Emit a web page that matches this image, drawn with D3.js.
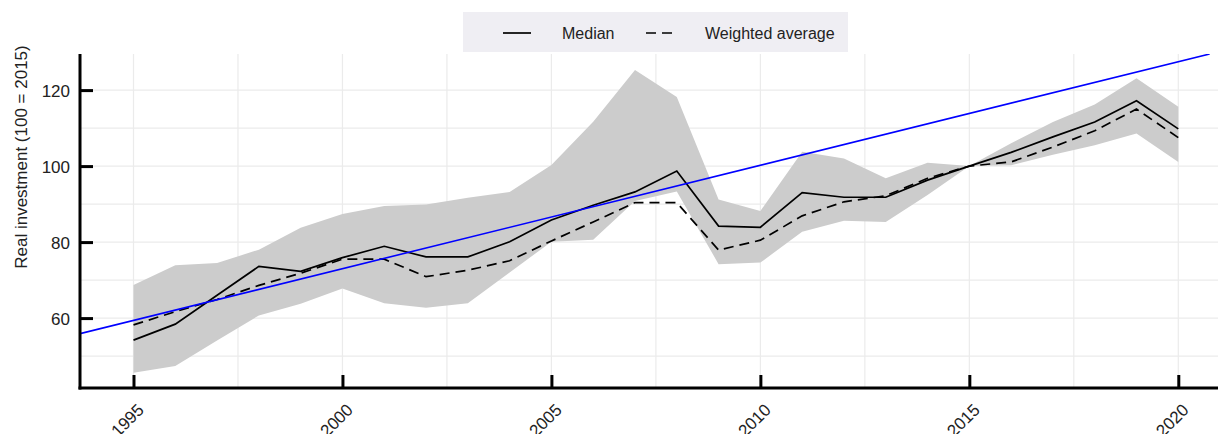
<!DOCTYPE html>
<html>
<head>
<meta charset="utf-8">
<script src="https://cdn.jsdelivr.net/npm/d3@7"></script>
<style>
  body { margin: 0; background: #fff; }
  svg { display: block; font-family: "Liberation Sans", Arial, sans-serif; }
</style>
</head>
<body>
<div id="chart"></div>
<script>
// data
var years = [1995, 1996, 1997, 1998, 1999, 2000, 2001, 2002, 2003, 2004, 2005, 2006, 2007,
             2008, 2009, 2010, 2011, 2012, 2013, 2014, 2015, 2016, 2017, 2018, 2019, 2020];
var median = [54.2, 58.4, 66.0, 73.6, 72.3, 75.9, 78.9, 76.1, 76.1, 80.1, 85.8, 89.7, 93.2,
              98.7, 84.2, 83.9, 93.0, 91.8, 91.8, 96.3, 100, 103.6, 107.7, 111.6, 117.2, 109.8];
var weighted = [58.2, 61.7, 64.9, 68.6, 71.8, 75.5, 75.5, 70.9, 72.6, 75.1, 80.3, 85.3, 90.4,
                90.4, 77.9, 80.5, 86.9, 90.6, 92.2, 96.8, 100, 101.1, 105.0, 109.3, 115.0, 107.5];
var bandLow = [45.6, 47.4, 54.1, 60.7, 63.8, 67.8, 63.9, 62.7, 63.9, 72.0, 80.1, 80.6, 90.8,
               93.3, 74.2, 74.6, 82.7, 85.6, 85.3, 92.4, 100, 100.2, 103.0, 105.5, 108.6, 101.1];
var bandHigh = [68.7, 73.9, 74.5, 78.0, 83.8, 87.4, 89.5, 89.9, 91.7, 93.2, 100.3, 111.7, 125.3,
                118.2, 91.2, 88.2, 103.8, 102.0, 96.8, 100.9, 100, 106.0, 111.6, 116.2, 123.1, 115.6];
var trendYears = [1993.72, 2020.75];
var trendValues = [55.9, 129.5];
var yTicks = [60, 80, 100, 120];
var yMinor = [50, 70, 90, 110];
var xTicks = [1995, 2000, 2005, 2010, 2015, 2020];
var xMinor = [1997.5, 2002.5, 2007.5, 2012.5, 2017.5];
var legendLabels = ["Median", "Weighted average"];
var yTitle = "Real investment (100 = 2015)";

var W = 1218, H = 434;
var plot = {left: 80, right: 1218, top: 54, bottom: 388};

var svg = d3.select("#chart").append("svg")
  .attr("width", W)
  .attr("height", H);

var x = d3.scaleLinear().domain([1993.72, 2020.95]).range([plot.left, plot.right]);
var y = d3.scaleLinear().domain([41.6, 129.5]).range([plot.bottom, plot.top]);

var rows = years.map(function(yr, i) {
  return {year: yr, median: median[i], weighted: weighted[i], lo: bandLow[i], hi: bandHigh[i]};
});

svg.append("defs").append("clipPath").attr("id", "clip")
  .append("rect")
  .attr("x", plot.left).attr("y", plot.top)
  .attr("width", plot.right - plot.left).attr("height", plot.bottom - plot.top);

// grid
var grid = svg.append("g").attr("class", "grid");
grid.selectAll(".hgrid")
  .data(yTicks.concat(yMinor))
  .enter().append("line")
    .attr("x1", plot.left).attr("x2", plot.right)
    .attr("y1", function(d) { return y(d); })
    .attr("y2", function(d) { return y(d); })
    .attr("stroke", "#ebebeb")
    .attr("stroke-width", 1.2);
grid.selectAll(".vgrid")
  .data(xTicks.concat(xMinor))
  .enter().append("line")
    .attr("y1", plot.top).attr("y2", plot.bottom)
    .attr("x1", function(d) { return x(d); })
    .attr("x2", function(d) { return x(d); })
    .attr("stroke", "#ebebeb")
    .attr("stroke-width", 1.2);

// range band
svg.append("path")
  .datum(rows)
  .attr("fill", "#cccccc")
  .attr("d", d3.area()
    .x(function(d) { return x(d.year); })
    .y0(function(d) { return y(d.lo); })
    .y1(function(d) { return y(d.hi); }));

// median & weighted average
svg.append("path")
  .datum(rows)
  .attr("fill", "none")
  .attr("stroke", "#000")
  .attr("stroke-width", 1.7)
  .attr("d", d3.line()
    .x(function(d) { return x(d.year); })
    .y(function(d) { return y(d.median); }));

svg.append("path")
  .datum(rows)
  .attr("fill", "none")
  .attr("stroke", "#000")
  .attr("stroke-width", 1.7)
  .attr("stroke-dasharray", "10,6")
  .attr("d", d3.line()
    .x(function(d) { return x(d.year); })
    .y(function(d) { return y(d.weighted); }));

// trend line
svg.append("path")
  .datum(trendYears.map(function(yr, i) { return {year: yr, value: trendValues[i]}; }))
  .attr("clip-path", "url(#clip)")
  .attr("fill", "none")
  .attr("stroke", "#0000ff")
  .attr("stroke-width", 1.6)
  .attr("d", d3.line()
    .x(function(d) { return x(d.year); })
    .y(function(d) { return y(d.value); }));

// axes
var yAxis = svg.append("g")
  .attr("transform", "translate(" + plot.left + ",0)")
  .call(d3.axisLeft(y).tickValues(yTicks).tickSize(-13).tickPadding(24));
var xAxis = svg.append("g")
  .attr("transform", "translate(0," + plot.bottom + ")")
  .call(d3.axisBottom(x).tickValues(xTicks).tickFormat(d3.format("d")).tickSize(-13));

[yAxis, xAxis].forEach(function(ax) {
  ax.select(".domain").attr("stroke", "#000").attr("stroke-width", 3);
  ax.selectAll(".tick line").attr("stroke", "#000").attr("stroke-width", 3);
  ax.selectAll("text").attr("fill", "#222").style("font-size", "17px")
    .style("font-family", "'Liberation Sans', Arial, sans-serif");
});
// redraw axis lines so they run to the plot edges exactly
yAxis.select(".domain").attr("d", "M0," + plot.top + "V" + (plot.bottom + 1.5));
xAxis.select(".domain").attr("d", "M" + (plot.left - 1.5) + ",0H" + plot.right);

yAxis.selectAll(".tick text").attr("x", -10).attr("dy", "0.36em");

xAxis.selectAll(".tick text")
  .attr("y", 0).attr("dy", 0)
  .attr("text-anchor", "end")
  .attr("transform", "translate(11,23) rotate(-45)");

// y title
svg.append("text")
  .attr("transform", "translate(27,157) rotate(-90)")
  .attr("text-anchor", "middle")
  .attr("fill", "#222")
  .style("font-size", "17px")
  .text(yTitle);

// legend
var legend = svg.append("g").attr("class", "legend");
legend.append("rect")
  .attr("x", 463).attr("y", 12)
  .attr("width", 385).attr("height", 40)
  .attr("fill", "#efeef3");

var legendItems = [
  {label: legendLabels[0], dash: null, x0: 503, tx: 562},
  {label: legendLabels[1], dash: "10,6", x0: 646, tx: 705}
];
legend.selectAll(".legend-item")
  .data(legendItems)
  .enter().append("g")
  .attr("class", "legend-item")
  .each(function(d) {
    var g = d3.select(this);
    g.append("line")
      .attr("x1", d.x0).attr("x2", d.x0 + 28)
      .attr("y1", 33).attr("y2", 33)
      .attr("stroke", "#000")
      .attr("stroke-width", 1.7)
      .attr("stroke-dasharray", d.dash);
    g.append("text")
      .attr("x", d.tx).attr("y", 39)
      .attr("fill", "#222")
      .style("font-size", "16px")
      .text(d.label);
  });
</script>
</body>
</html>
